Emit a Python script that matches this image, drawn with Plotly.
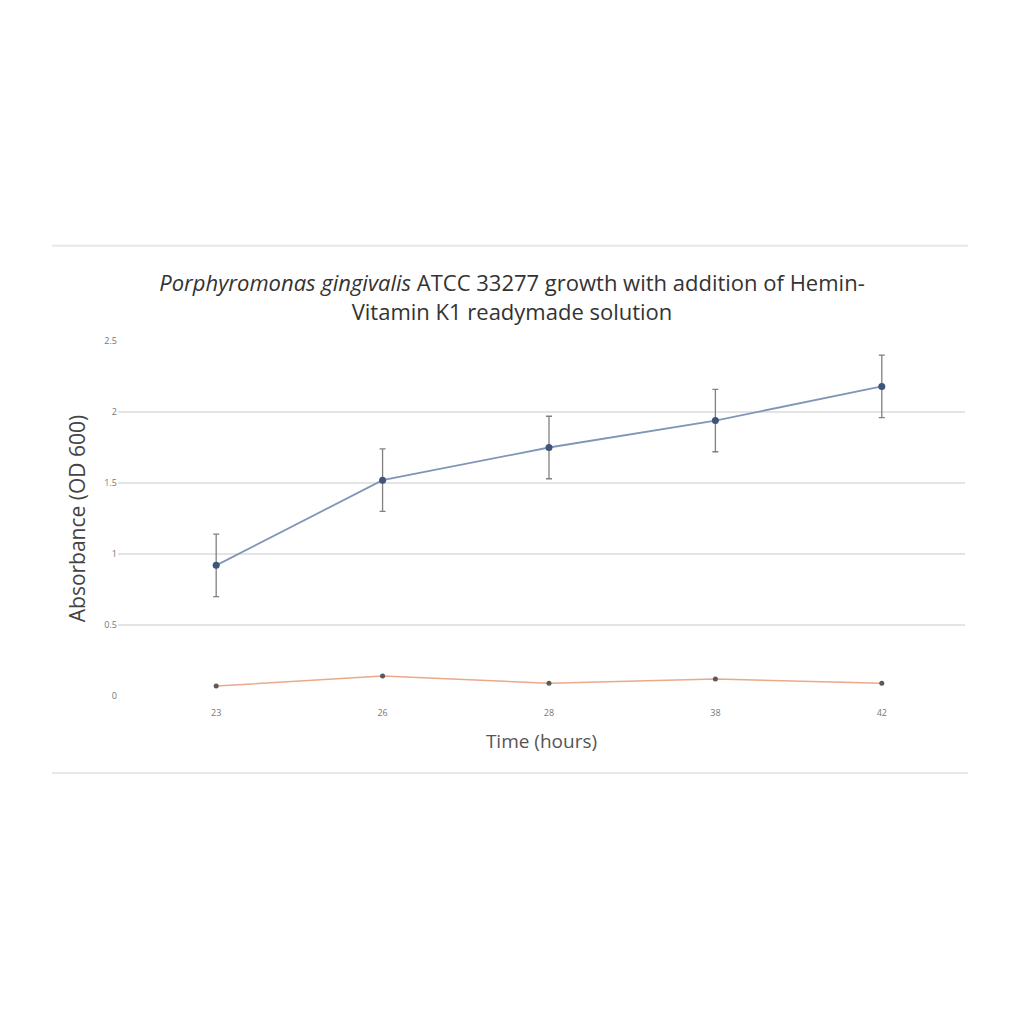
import plotly.graph_objects as go

time_labels = ["23", "26", "28", "38", "42"]
hemin_od = [0.92, 1.52, 1.75, 1.94, 2.18]
hemin_err = [0.22, 0.22, 0.22, 0.22, 0.22]
control_od = [0.07, 0.14, 0.09, 0.12, 0.09]
y_ticks = [0, 0.5, 1, 1.5, 2, 2.5]
y_tick_text = ["0", "0.5", "1", "1.5", "2", "2.5"]

fig = go.Figure()
fig.add_trace(go.Scatter(
    x=time_labels, y=control_od, mode="lines+markers",
    line=dict(color="#eba88a", width=1.5),
    marker=dict(color="#5a5a5a", size=5),
    showlegend=False))
fig.add_trace(go.Scatter(
    x=time_labels, y=hemin_od, mode="lines+markers",
    line=dict(color="#8096b8", width=1.8),
    marker=dict(color="#3f5478", size=7),
    error_y=dict(type="data", array=hemin_err, color="#808080", thickness=1.3, width=3),
    showlegend=False))

font_fam = "Open Sans, Liberation Sans, sans-serif"
fig.update_layout(
    width=1024, height=1024,
    paper_bgcolor="white", plot_bgcolor="white",
    margin=dict(l=118, r=59, t=341, b=328),
    title=dict(
        text="<i>Porphyromonas gingivalis</i> ATCC 33277 growth with addition of Hemin-<br>Vitamin K1 readymade solution",
        x=0.5, xanchor="center", y=1 - 291 / 1024, yanchor="middle",
        font=dict(family=font_fam, size=22, color="#333333")),
    font=dict(family=font_fam),
    xaxis=dict(
        type="category", range=[-0.59, 4.5], showgrid=False, showline=False, zeroline=False,
        ticks="", tickfont=dict(size=9, color="#777777"), ticklabelstandoff=10,
        title=dict(text="Time (hours)", font=dict(size=19, color="#555555"), standoff=16)),
    yaxis=dict(
        range=[0, 2.5], tickvals=y_ticks, ticktext=y_tick_text,
        showgrid=True, gridcolor="#e4e4e4", gridwidth=1.5, zeroline=False,
        showline=False, ticks="", tickfont=dict(size=9, color="#777777"),
        title=dict(text="Absorbance (OD 600)", font=dict(size=21, color="#444444"), standoff=12)),
)
for yv in [1.268, -0.217]:
    fig.add_shape(type="line", xref="paper", yref="paper",
                  x0=-0.078, x1=1.0035, y0=yv, y1=yv,
                  line=dict(color="#e8e8e8", width=2))

fig.write_html("out.html")
